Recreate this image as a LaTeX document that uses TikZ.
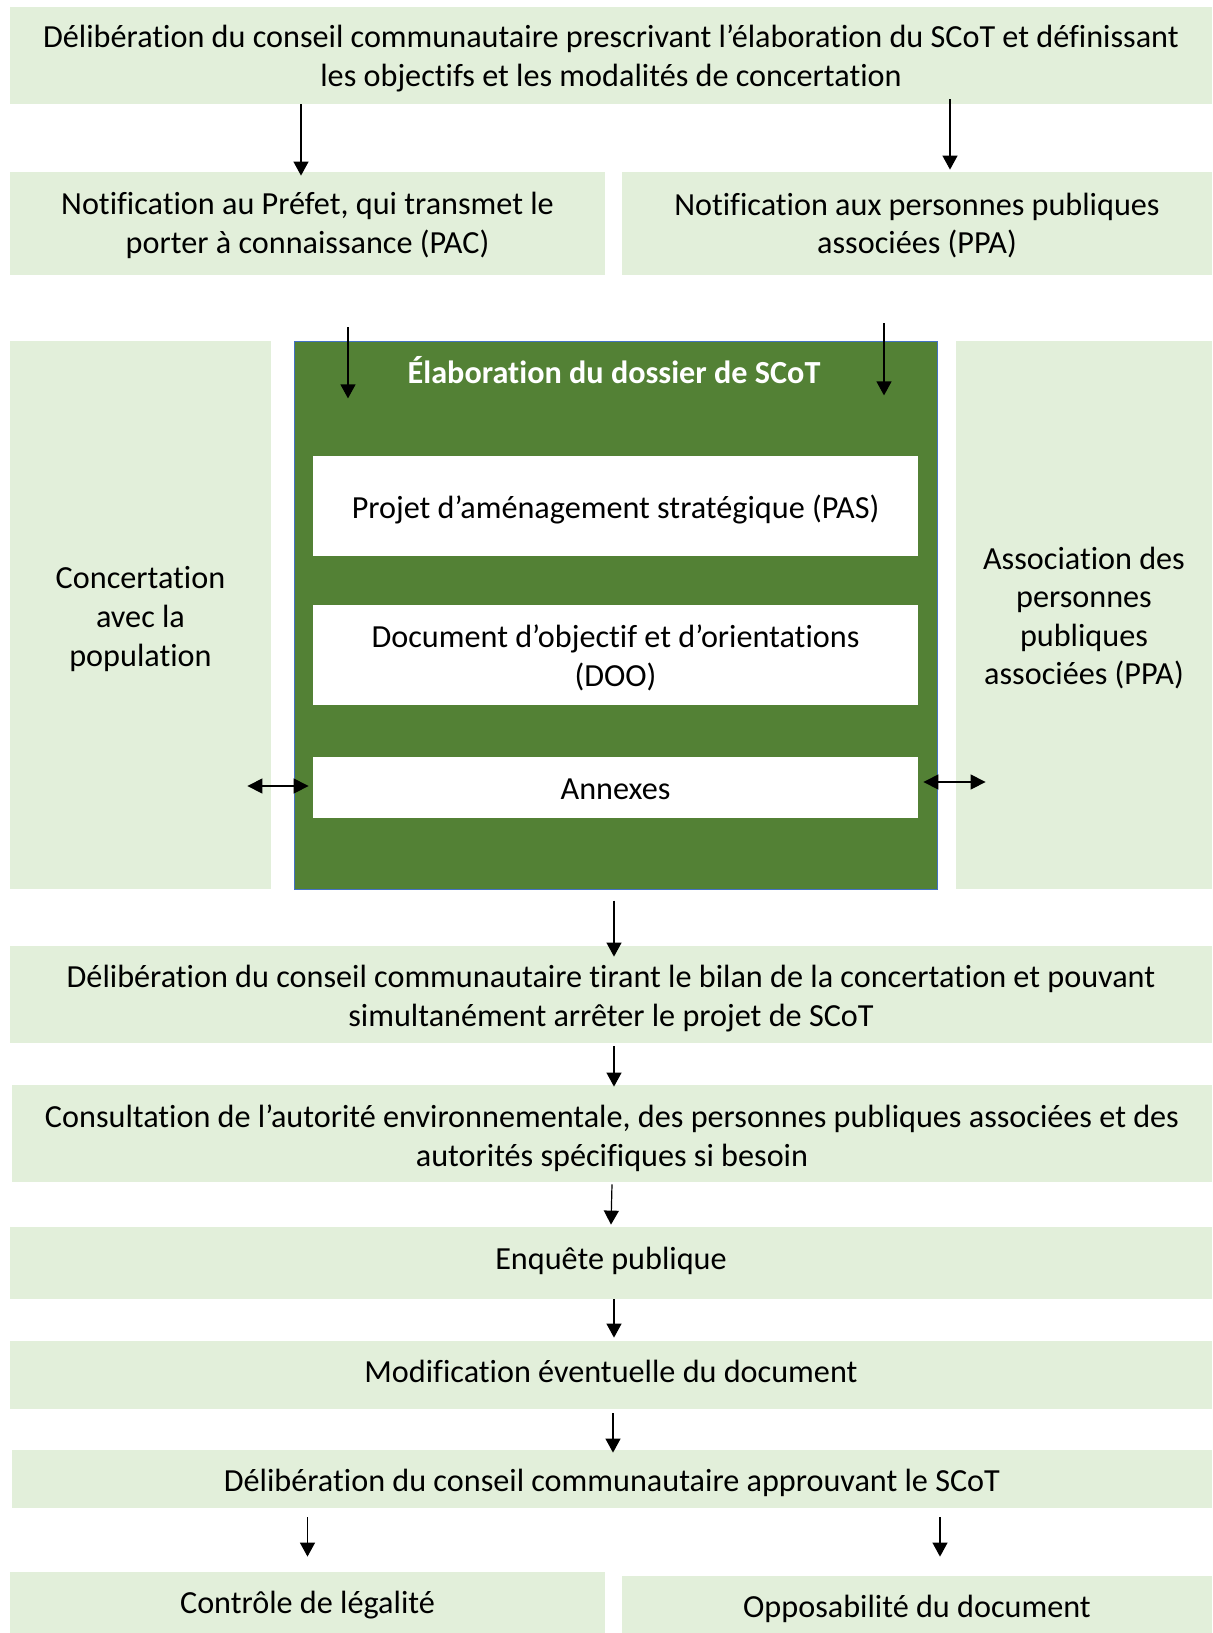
\documentclass[tikz,border=0pt]{standalone}
\usepackage{fontspec}
\setmainfont{Carlito}[Ligatures=NoCommon]
\usetikzlibrary{arrows.meta,calc}
\definecolor{lg}{HTML}{E2EFDA}
\definecolor{dg}{HTML}{538135}
\definecolor{bord}{HTML}{4472C4}
\newcommand{\dfont}{\fontsize{16.1}{19.3}\selectfont}
% #1 style, #2 name, #3 cx, #4 cy, #5 width, #6 height, #7 text shift, #8 text
\newcommand{\mkbox}[8]{%
  \node[#1,minimum width=#5,minimum height=#6] (#2) at (#3,#4) {};
  \node[txt] (#2-t) at ([yshift=#7]#2.center) {#8};}
\begin{document}
\begin{tikzpicture}[x=0.5pt,y=-0.5pt,
  lbox/.style={fill=lg,draw=none,inner sep=0pt},
  wbox/.style={fill=white,draw=none,inner sep=0pt},
  txt/.style={inner sep=0pt,align=center,font=\dfont,text=black},
  arr/.style={line width=0.6pt,-{Triangle[length=7pt,width=7.5pt]}},
  darr/.style={line width=0.6pt,{Triangle[length=7.5pt,width=7.5pt]}-{Triangle[length=7.5pt,width=7.5pt]}}]
\useasboundingbox (0,0) rectangle (1212,1633);
\fill[white] (0,0) rectangle (1212,1633);

\mkbox{lbox}{b1}{611}{55.5}{601pt}{48.5pt}{-1.5pt}
  {Délibération du conseil communautaire prescrivant l’élaboration du SCoT et définissant\\les objectifs et les modalités de concertation}
\mkbox{lbox}{pac}{307.5}{223.5}{297.5pt}{51.5pt}{-1pt}
  {Notification au Préfet, qui transmet le\\porter à connaissance (PAC)}
\mkbox{lbox}{ppa}{917}{223.5}{295pt}{51.5pt}{-1pt}
  {Notification aux personnes publiques\\associées (PPA)}

\mkbox{lbox}{conc}{140.5}{615}{130.5pt}{274pt}{-2pt}
  {Concertation\\avec la\\population}
\node[fill=dg,draw=bord,line width=0.5pt,minimum width=321.5pt,minimum height=274pt,inner sep=0pt] (dossier) at (615.5,615) {};
\mkbox{lbox}{assoc}{1084}{615}{128pt}{274pt}{-1.5pt}
  {Association des\\personnes\\publiques\\associées (PPA)}

\node[txt,text=white,font=\dfont\bfseries] (title) at (614,370) {Élaboration du dossier de SCoT};
\mkbox{wbox}{pas}{615.5}{506}{302.5pt}{50pt}{-1.5pt}{Projet d’aménagement stratégique (PAS)}
\mkbox{wbox}{doo}{615.5}{655}{302.5pt}{50pt}{-1.5pt}{Document d’objectif et d’orientations\\(DOO)}
\mkbox{wbox}{annexes}{615.5}{787.5}{302.5pt}{30.5pt}{-0.75pt}{Annexes}

\mkbox{lbox}{bilan}{611}{994.5}{601pt}{48.5pt}{-2pt}
  {Délibération du conseil communautaire tirant le bilan de la concertation et pouvant\\simultanément arrêter le projet de SCoT}
\mkbox{lbox}{consult}{612}{1133.5}{600pt}{48.5pt}{-2.5pt}
  {Consultation de l’autorité environnementale, des personnes publiques associées et des\\autorités spécifiques si besoin}
\mkbox{lbox}{enquete}{611}{1263}{601pt}{36pt}{1.25pt}{Enquête publique}
\mkbox{lbox}{modif}{611}{1375}{601pt}{34pt}{1.75pt}{Modification éventuelle du document}
\mkbox{lbox}{approuv}{612}{1479}{600pt}{29pt}{-2pt}{Délibération du conseil communautaire approuvant le SCoT}
\mkbox{lbox}{controle}{307.5}{1602.5}{297.5pt}{30.5pt}{-1.5pt}{Contrôle de légalité}
\mkbox{lbox}{oppos}{917}{1604.5}{295pt}{28.5pt}{-2pt}{Opposabilité du document}

% arrows
\draw[arr] ([xshift=-155pt]b1.south) -- ([xshift=-3.25pt,yshift=-2pt]pac.north);
\draw[arr] ([xshift=169.5pt,yshift=2.5pt]b1.south) -- ([xshift=16.5pt,yshift=1pt]ppa.north);
\draw[arr] ([xshift=20.25pt,yshift=-26pt]pac.south) -- ++(0,71);
\draw[arr] ([xshift=-16.5pt,yshift=-24pt]ppa.south) -- ++(0,72);

\coordinate (L1) at (conc.east |- annexes.west);
\draw[darr] ([xshift=-12pt,yshift=0.75pt]L1) -- ([xshift=-2pt,yshift=0.75pt]annexes.west);
\coordinate (R1) at (assoc.west |- annexes.east);
\draw[darr] ([xshift=2.5pt,yshift=2.75pt]annexes.east) -- ([xshift=15pt,yshift=2.75pt]R1);

\draw[arr] ([xshift=-0.75pt,yshift=-5.5pt]dossier.south) -- ([xshift=1.5pt,yshift=-5.5pt]bilan.north);
\draw[arr] ([xshift=1.5pt,yshift=-1.5pt]bilan.south) -- ([xshift=1pt,yshift=-1pt]consult.north);
\draw[arr] ([yshift=-1pt]consult.south) -- ([yshift=1pt]enquete.north);
\draw[arr] ([xshift=1.5pt]enquete.south) -- ([xshift=1.5pt,yshift=1.5pt]modif.north);
\draw[arr] ([xshift=1pt,yshift=-2pt]modif.south) -- ([xshift=0.5pt,yshift=-1.5pt]approuv.north);

\coordinate (a1) at (controle.north |- approuv.south);
\draw[arr] ([yshift=-4.5pt]a1) -- ([yshift=7.5pt]controle.north);
\coordinate (a2) at (oppos.north |- approuv.south);
\draw[arr] ([xshift=11.5pt,yshift=-4.5pt]a2) -- ([xshift=11.5pt,yshift=9.5pt]oppos.north);
\end{tikzpicture}
\end{document}
